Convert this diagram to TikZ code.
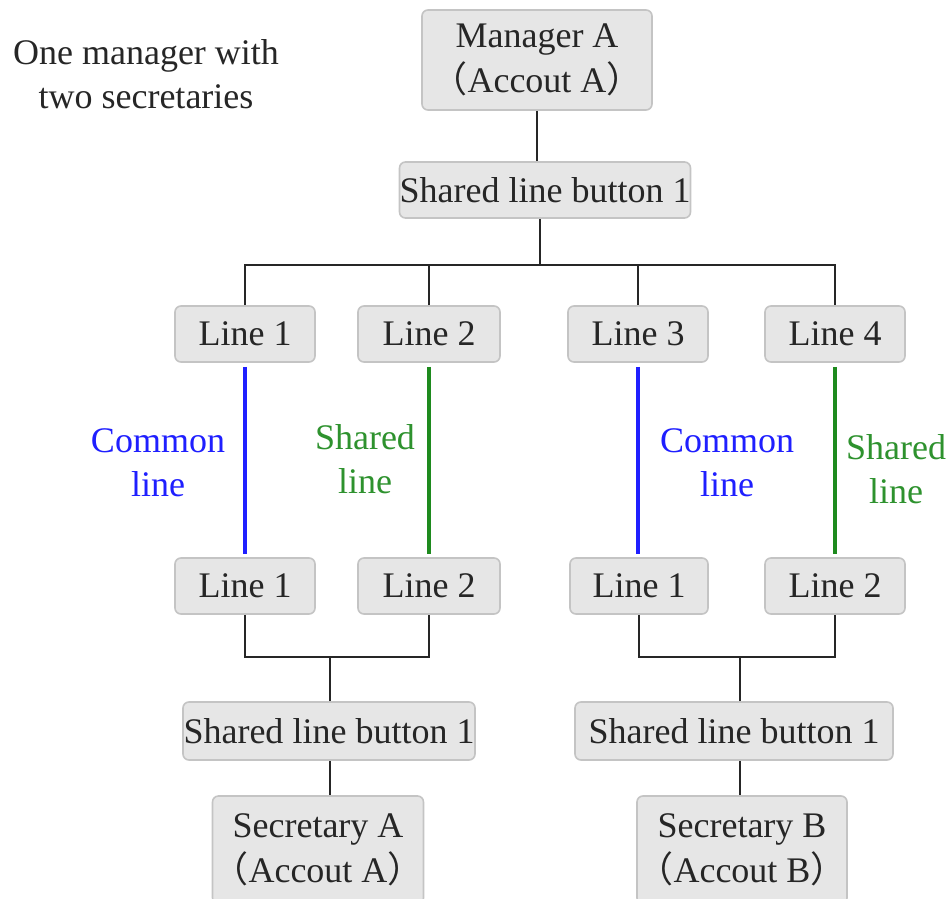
\documentclass[tikz,border=0pt]{standalone}
\usepackage{fontspec}
\setmainfont{Liberation Serif}
\newfontfamily\cjk{Noto Sans CJK SC}[Scale=1.0]
\definecolor{boxfill}{HTML}{E6E6E6}
\definecolor{boxline}{HTML}{C4C4C4}
\definecolor{cblue}{HTML}{1F1FFF}
\definecolor{cgreen}{HTML}{1E8A1E}
\definecolor{tgreen}{HTML}{2E922E}
\newcommand{\lp}{{\cjk （}}
\newcommand{\rp}{{\cjk ）}}
\tikzset{
  gbox/.style={draw=boxline, fill=boxfill, line width=0.8pt, rounded corners=3pt,
    inner sep=0pt, align=center, text=black!85, font=\fontsize{18}{22.5}\selectfont},
  conn/.style={draw=black!85, line width=1pt},
  cline/.style={line width=1.6pt, shorten <=2pt, shorten >=1.5pt},
  lbl/.style={align=center, font=\fontsize{18}{22}\selectfont}
}
\begin{document}
\begin{tikzpicture}[x=0.5pt,y=-0.5pt]
\clip (0,0) rectangle (951,898);
\fill[white] (0,0) rectangle (951,898);

% title
\node[lbl, text=black!85] (title) at (146,74) {One manager with\\two secretaries};

% top
\node[gbox, minimum width=115pt, minimum height=50pt] (mgr) at (537,60) {Manager A\\\lp Accout A\rp};
\node[gbox, minimum width=145pt, minimum height=28pt] (slb) at (545,190) {Shared line button 1};
\coordinate (bus) at (540,265);

% upper lines
\node[gbox, minimum width=70pt, minimum height=28pt] (l1) at (245,334) {Line 1};
\node[gbox, minimum width=71pt, minimum height=28pt] (l2) at (429,334) {Line 2};
\node[gbox, minimum width=70pt, minimum height=28pt] (l3) at (638,334) {Line 3};
\node[gbox, minimum width=70pt, minimum height=28pt] (l4) at (835,334) {Line 4};

% lower lines
\node[gbox, minimum width=70pt, minimum height=28pt] (m1) at (245,586) {Line 1};
\node[gbox, minimum width=71pt, minimum height=28pt] (m2) at (429,586) {Line 2};
\node[gbox, minimum width=69pt, minimum height=28pt] (m3) at (639,586) {Line 1};
\node[gbox, minimum width=70pt, minimum height=28pt] (m4) at (835,586) {Line 2};

\coordinate (busA) at (330,657);
\coordinate (busB) at (740,657);

% lower buttons
\node[gbox, minimum width=146pt, minimum height=29pt] (sA) at (329,731) {Shared line button 1};
\node[gbox, minimum width=159pt, minimum height=29pt] (sB) at (734,731) {Shared line button 1};

% secretaries
\node[gbox, minimum width=105pt, minimum height=54pt] (secA) at (318,850) {Secretary A\\\lp Accout A\rp};
\node[gbox, minimum width=105pt, minimum height=54pt] (secB) at (742,850) {Secretary B\\\lp Accout B\rp};

% connectors top
\draw[conn] (mgr.south) -- (mgr.south |- slb.north);
\draw[conn] (bus |- slb.south) -- (bus);
\draw[conn] (l1.north) |- (bus) -| (l4.north);
\draw[conn] (l2.north) -- (l2.north |- bus);
\draw[conn] (l3.north) -- (l3.north |- bus);

% colored lines
\draw[cline, cblue] (l1.south) -- (m1.north);
\draw[cline, cgreen] (l2.south) -- (m2.north);
\draw[cline, cblue] (l3.south) -- (l3.south |- m3.north);
\draw[cline, cgreen] (l4.south) -- (m4.north);

% labels
\node[lbl, text=cblue] (cA) at (158,463) {Common\\line};
\node[lbl, text=tgreen] (sdA) at (365,459) {Shared\\line};
\node[lbl, text=cblue] (cB) at (727,463) {Common\\line};
\node[lbl, text=tgreen] (sdB) at (896,469) {Shared\\line};

% lower connectors
\draw[conn] (m1.south) |- (busA) -| (m2.south);
\draw[conn] (busA) -- (busA |- sA.north);
\draw[conn] (m3.south) |- (busB) -| (m4.south);
\draw[conn] (busB) -- (busB |- sB.north);
\draw[conn] (busA |- sA.south) -- (busA |- secA.north);
\draw[conn] (busB |- sB.south) -- (busB |- secB.north);
\end{tikzpicture}
\end{document}
